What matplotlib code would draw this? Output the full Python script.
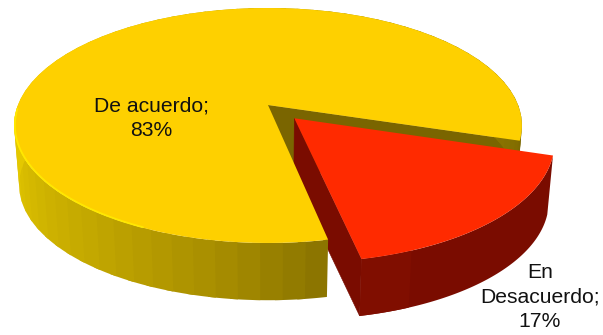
import numpy as np
import matplotlib
matplotlib.use("Agg")
import matplotlib.pyplot as plt
from matplotlib.patches import Polygon

plt.rcParams['font.family'] = ['Liberation Sans', 'DejaVu Sans']

# Survey shares
labels = ['De acuerdo', 'En\nDesacuerdo']
shares = [83, 17]

# Pie geometry in pixels, angles run clockwise from 3 o'clock
x0, y0 = 268, 105
rx, ry = 250, 113.9
tilt = 0.1745
depth = 60
red_start = 17.3
explode = 0.154


# Perspective projection of a point on the unit disk, top or bottom face
def project(u, v, bottom=False):
    s = 1 - tilt * v
    x = x0 + rx * u / s
    y = y0 + ry * v / s
    if bottom:
        x = x0 + (x - x0) * 0.98
        y = y0 + depth + (y - y0) * 0.98
    return np.column_stack([x, y])


def disk(deg, r=1.0, offset=(0, 0)):
    a = np.radians(deg)
    return r * np.cos(a) + offset[0], r * np.sin(a) + offset[1]


def wedge_top(a1, a2, offset=(0, 0)):
    ang = np.linspace(a1, a2, 240)
    u, v = disk(ang, 1.0, offset)
    rim = project(u, v)
    apex = project(np.array([offset[0]]), np.array([offset[1]]))
    return np.vstack([apex, rim])


def side_strip(a1, a2, offset=(0, 0), n=8):
    ang = np.linspace(a1, a2, n)
    u, v = disk(ang, 1.0, offset)
    return np.vstack([project(u, v), project(u, v, True)[::-1]])


def cut_wall(angle, offset=(0, 0)):
    ou, ov = np.array([offset[0]]), np.array([offset[1]])
    u, v = disk(np.array([angle]), 1.0, offset)
    return np.vstack([project(ou, ov), project(u, v),
                      project(u, v, True), project(ou, ov, True)])


red_sweep = shares[1] * 3.6
red_end = red_start + red_sweep
mid = np.radians((red_start + red_end) / 2)
shift = (explode * np.cos(mid), explode * np.sin(mid))
yellow_start = red_end
yellow_end = red_start + 360

fig = plt.figure(figsize=(6.03, 3.35), dpi=100)
ax = fig.add_axes([0, 0, 1, 1])
ax.set_xlim(0, 603)
ax.set_ylim(335, 0)
ax.axis('off')

# Inner wall of the yellow slice, then the red wall in front of it
ax.add_patch(Polygon(cut_wall(yellow_end), closed=True, fc='#7a6500', ec='#7a6500', lw=0.4, zorder=1))
ax.add_patch(Polygon(cut_wall(red_end, shift), closed=True, fc='#7a0c00', ec='#7a0c00', lw=0.4, zorder=2))

# Yellow slice: faceted outer side, darker toward the cut
edges = np.linspace(yellow_start, yellow_end, 70)
stops = np.array([78, 100, 125, 150, 172, 200, 350, 380])
reds = np.array([0x88, 0xa8, 0xc0, 0xd4, 0xe4, 0xe4, 0x88, 0x78])
greens = np.array([0x72, 0x8e, 0xa5, 0xb8, 0xc8, 0xc8, 0x72, 0x66])
for i, (a, b) in enumerate(zip(edges[:-1], edges[1:])):
    m = (a + b) / 2
    col = (np.interp(m, stops, reds) / 255, np.interp(m, stops, greens) / 255, 0)
    # each strip runs under the next one so no seams show between them
    ax.add_patch(Polygon(side_strip(a, min(b + 1.5, yellow_end)), closed=True, fc=col, ec='none', zorder=3 + i * 0.001))

ax.add_patch(Polygon(wedge_top(yellow_start, yellow_end), closed=True, fc='#fed000', ec='none', zorder=4))

# Bright rim along the front edge of the top face
rim_ang = np.linspace(115, 178, 80)
rim = project(*disk(rim_ang, 0.997))
ax.plot(rim[:, 0], rim[:, 1], color='#ffe800', lw=1.3, zorder=5, solid_capstyle='round')

# Red slice, pulled out along its bisector
ax.add_patch(Polygon(side_strip(red_start, red_end, shift, 80), closed=True, fc='#7a0c00', ec='none', zorder=6))
ax.add_patch(Polygon(side_strip(red_end - 10, red_end, shift), closed=True, fc='#800e00', ec='none', zorder=6.5))
ax.add_patch(Polygon(wedge_top(red_start, red_end, shift), closed=True, fc='#ff2a00', ec='none', zorder=7))

# Data labels
text_kw = dict(ha='center', va='center', fontsize=15.2, color='#111111', zorder=8, linespacing=1.36)
ax.text(151, 118, f'{labels[0]};\n{shares[0]}%', **text_kw)
ax.text(540, 297, f'{labels[1]};\n{shares[1]}%', **text_kw)

fig.savefig('out.png', dpi=100)
